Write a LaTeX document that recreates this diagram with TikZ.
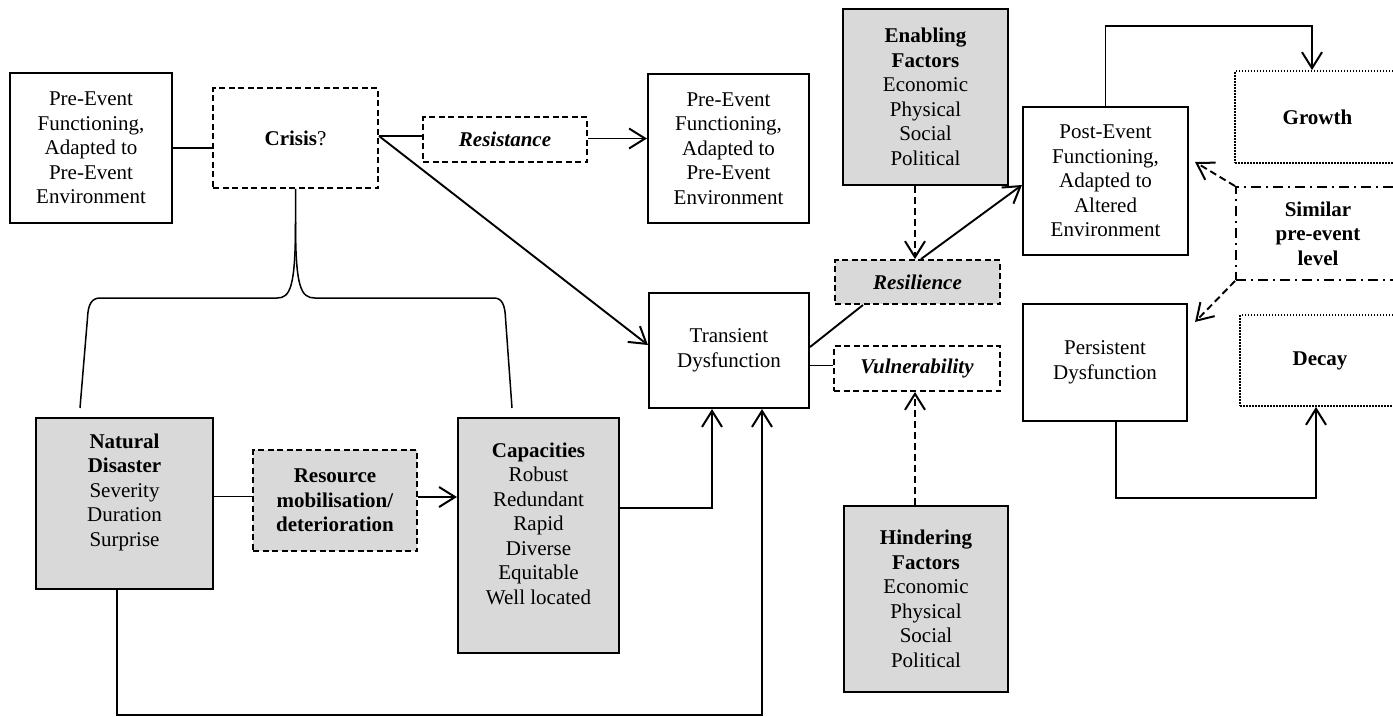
\documentclass[tikz,border=0pt]{standalone}
\usepackage{fontspec}
\setmainfont{Liberation Serif}
\usetikzlibrary{arrows.meta}
\definecolor{boxgrey}{HTML}{D9D9D9}
\begin{document}
\begin{tikzpicture}[x=1pt,y=-1pt,
  every node/.style={font=\fontsize{21}{24.5}\selectfont, align=center, inner sep=0pt},
  box/.style={draw, line width=2.1pt, rectangle},
  dbox/.style={draw, line width=1.9pt, dash pattern=on 6pt off 3.5pt},
  dotbox/.style={draw, line width=1.9pt, dash pattern=on 1.5pt off 1.5pt},
  dashdotbox/.style={draw, line width=1.9pt, dash pattern=on 10pt off 5pt on 2pt off 5pt},
  grey/.style={fill=boxgrey},
  conn/.style={line width=1.9pt},
  thin conn/.style={line width=1.5pt},
  arr/.style={conn, -{Straight Barb[length=16pt,width=20pt,line width=2pt]}},
  darr/.style={arr, dash pattern=on 7pt off 4pt},
]
\useasboundingbox (0,0) rectangle (1393,716);
\clip (0,0) rectangle (1393,716);

% first row
\node[box, minimum width=162pt, minimum height=150pt] (pre1) at (91,148)
  {Pre-Event\\Functioning,\\Adapted to\\Pre-Event\\Environment};
\node[dbox, minimum width=165pt, minimum height=100pt] (crisis) at (295.5,138)
  {\textbf{Crisis}?};
\node[dbox, minimum width=164pt, minimum height=45pt] (resist) at (505,139.5)
  {\textbf{\textit{Resistance}}};
\node[box, minimum width=161pt, minimum height=149pt] (pre2) at (728.5,148.5)
  {Pre-Event\\Functioning,\\Adapted to\\Pre-Event\\Environment};

% middle column
\node[box, minimum width=160pt, minimum height=115pt] (trans) at (729,350.5)
  {Transient\\Dysfunction};
\node[box, grey, minimum width=165pt, minimum height=176pt] (enab) at (925.5,97)
  {\textbf{Enabling}\\\textbf{Factors}\\Economic\\Physical\\Social\\Political};
\node[dbox, grey, minimum width=165pt, minimum height=44pt] (resil) at (917.5,282)
  {\textbf{\textit{Resilience}}};
\node[dbox, minimum width=166pt, minimum height=45pt] (vuln) at (917,368.5)
  {\textbf{\textit{Vulnerability}}};
\node[box, grey, minimum width=164pt, minimum height=186pt] (hind) at (926,599)
  {\textbf{Hindering}\\\textbf{Factors}\\Economic\\Physical\\Social\\Political};

% outcomes
\node[box, minimum width=165pt, minimum height=148pt] (post) at (1105.5,181)
  {Post-Event\\Functioning,\\Adapted to\\Altered\\Environment};
\node[box, minimum width=164pt, minimum height=117pt] (pers) at (1105,362.5)
  {Persistent\\Dysfunction};
\node[dotbox, minimum width=165pt, minimum height=92pt] (growth) at (1317.5,117)
  {\textbf{Growth}};
\node[dashdotbox, minimum width=164pt, minimum height=93pt] (similar) at (1318,233.5)
  {\textbf{Similar}\\\textbf{pre-event}\\\textbf{level}};
\node[dotbox, minimum width=160pt, minimum height=91pt] (decay) at (1320,360.5)
  {\textbf{Decay}};

% lower row
\node[box, grey, minimum width=177pt, minimum height=171pt] (nat) at (124.5,503.5) {};
\node (nattext) at (124.5,492)
  {\textbf{Natural}\\\textbf{Disaster}\\Severity\\Duration\\Surprise};
\node[dbox, grey, minimum width=164pt, minimum height=101pt] (res) at (335,500.5)
  {\textbf{Resource}\\\textbf{mobilisation/}\\\textbf{deterioration}};
\node[box, grey, minimum width=161pt, minimum height=235pt] (cap) at (538.5,535.5) {};
\node (captext) at (538.5,523.5)
  {\textbf{Capacities}\\Robust\\Redundant\\Rapid\\Diverse\\Equitable\\Well located};

% brace under the crisis box
\coordinate (legL) at (80,408);
\coordinate (legR) at (512,408);
\draw[thin conn] (crisis.south) -- (295.5,222)
  .. controls (295.5,288) and (290,298) .. (277,298) -- (100,298)
  .. controls (92,298) and (88,304) .. (87.5,318) -- (legL);
\draw[thin conn] (295.5,222)
  .. controls (295.5,288) and (301,298) .. (315,298) -- (494,298)
  .. controls (502,298) and (505,305) .. (505.5,318) -- (legR);

% connectors, first row
\coordinate (cx) at (crisis.east |- 0,136);
\draw[conn] (pre1.east) -- (pre1.east -| crisis.west);
\draw[thin conn] (cx) -- (cx -| resist.west);
\draw[arr] ([yshift=1pt]resist.east) -- ([yshift=1pt]resist.east -| pre2.west);
\draw[arr] (cx) -- ([yshift=5.5pt]trans.west);

% connectors, lower row
\draw[conn] ([yshift=4pt]res.west -| nat.east) -- ([yshift=4pt]res.west);
\draw[arr] ([yshift=3.5pt]res.east) -- ([yshift=3.5pt]res.east -| cap.west);
\draw[arr] ([yshift=27.5pt]cap.east) -| ([xshift=-17pt]trans.south);
\draw[arr] ([xshift=-7.5pt]nat.south) -- ++(0,125) -| ([xshift=33pt]trans.south);

% resilience and vulnerability
\draw[thin conn] ([yshift=-15pt]trans.east) -- ([yshift=-15pt]trans.east -| vuln.west);
\draw[darr] ([xshift=-11pt]hind.north) -- ([xshift=-11pt]hind.north |- vuln.south);
\draw[darr] ([xshift=-10.5pt]enab.south) -- ([xshift=-10.5pt]enab.south |- resil.north);
\draw[conn] ([yshift=3.5pt]trans.east) -- ([xshift=-54.5pt]resil.south);
\draw[arr] ([xshift=3.5pt]resil.north) -- ([yshift=-4pt]post.west);

% outcomes
\draw[arr] (post.north) -- ++(0,-80) -| ([xshift=-5.5pt]growth.north);
\draw[darr] (similar.north west) -- ([xshift=6pt,yshift=19pt]post.east);
\draw[darr] (similar.south west) -- ([xshift=7pt,yshift=-19pt]pers.north east);
\draw[arr] ([xshift=11pt]pers.south) -- ++(0,76) -| ([xshift=-4pt]decay.south);
\end{tikzpicture}
\end{document}
